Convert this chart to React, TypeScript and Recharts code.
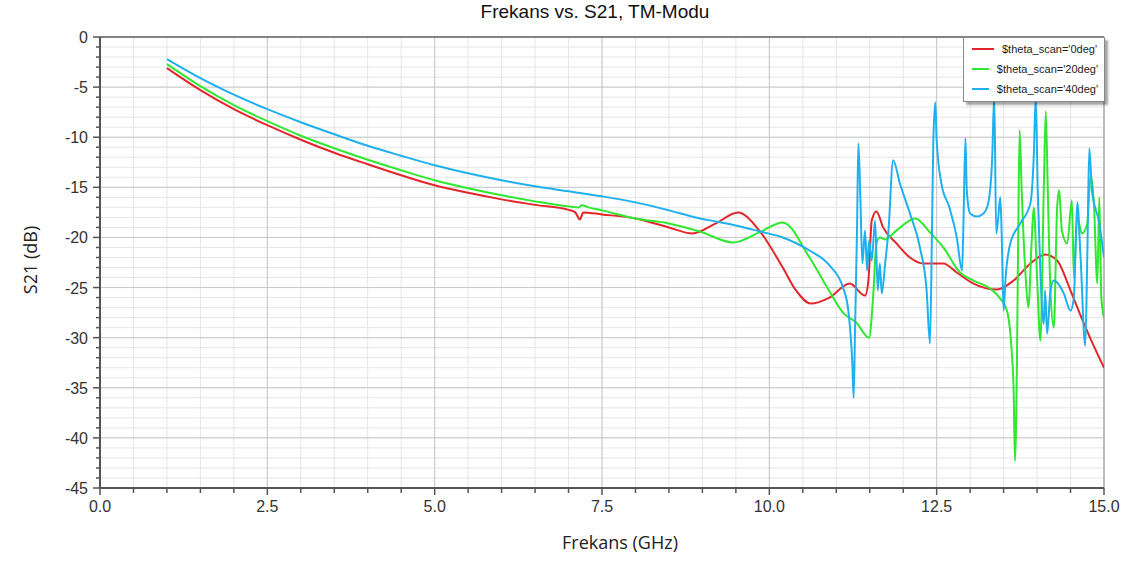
import { CartesianGrid, Legend, Line, LineChart, ReferenceLine, XAxis, YAxis } from 'recharts';

// theta_scan = 0deg
const redFreq = [1.0, 1.5, 2.0, 2.5, 3.0, 3.5, 4.0, 4.5, 5.0, 5.5, 6.0, 6.5, 7.0, 7.1, 7.17, 7.22, 7.5, 8.0, 8.5, 8.85, 9.2, 9.53, 9.86, 10.2, 10.4, 10.62, 10.9, 11.2, 11.43, 11.48, 11.53, 11.6, 11.7, 11.9, 12.1, 12.3, 12.6, 12.8, 13.05, 13.4, 13.65, 13.9, 14.12, 14.3, 14.5, 14.7, 14.9, 15.0];
const redS21 = [-3.1, -5.3, -7.2, -8.8, -10.25, -11.55, -12.7, -13.8, -14.8, -15.55, -16.2, -16.75, -17.25, -17.5, -18.2, -17.5, -17.7, -18.1, -19.0, -19.6, -18.6, -17.5, -19.4, -23.0, -25.3, -26.6, -26.0, -24.6, -25.8, -24.3, -18.3, -17.4, -19.0, -20.6, -22.0, -22.6, -22.6, -23.5, -24.6, -25.2, -24.3, -22.6, -21.7, -22.3, -25.3, -28.6, -31.6, -33.0];

// theta_scan = 20deg
const greenFreq = [1.0, 1.5, 2.0, 2.5, 3.0, 3.5, 4.0, 4.5, 5.0, 5.5, 6.0, 6.5, 7.0, 7.15, 7.2, 7.3, 7.5, 8.0, 8.5, 8.96, 9.46, 9.85, 10.2, 10.6, 10.9, 11.1, 11.3, 11.49, 11.55, 11.6, 11.65, 11.73, 11.9, 12.18, 12.4, 12.6, 12.85, 13.05, 13.3, 13.45, 13.55, 13.62, 13.65, 13.67, 13.7, 13.72, 13.74, 13.77, 13.8, 13.83, 13.87, 13.92, 13.95, 14.0, 14.05, 14.1, 14.13, 14.16, 14.2, 14.25, 14.3, 14.33, 14.37, 14.45, 14.52, 14.55, 14.6, 14.67, 14.75, 14.8, 14.85, 14.9, 14.93, 14.96, 15.0];
const greenS21 = [-2.7, -4.9, -6.8, -8.4, -9.85, -11.1, -12.25, -13.3, -14.3, -15.1, -15.8, -16.4, -16.9, -17.0, -16.8, -17.0, -17.3, -18.1, -18.6, -19.4, -20.5, -19.5, -18.5, -22.0, -25.4, -27.5, -28.5, -30.0, -26.0, -20.6, -20.0, -20.2, -19.3, -18.1, -19.5, -21.0, -23.5, -24.3, -25.1, -26.1, -27.3, -31.3, -35.3, -42.3, -32.0, -18.6, -9.3, -15.3, -20.3, -24.0, -27.0, -20.3, -17.0, -24.0, -30.3, -15.3, -7.4, -15.3, -25.3, -29.0, -17.0, -15.3, -19.3, -20.6, -16.3, -24.0, -18.0, -19.6, -18.6, -13.8, -16.7, -24.6, -16.0, -26.0, -28.0];

// theta_scan = 40deg
const blueFreq = [1.0, 1.5, 2.0, 2.5, 3.0, 3.5, 4.0, 4.5, 5.0, 5.5, 6.0, 6.5, 7.0, 7.5, 8.0, 8.5, 8.9, 9.2, 9.5, 9.86, 10.2, 10.6, 10.9, 11.1, 11.18, 11.24, 11.26, 11.28, 11.31, 11.33, 11.36, 11.39, 11.43, 11.46, 11.49, 11.53, 11.58, 11.62, 11.65, 11.68, 11.73, 11.78, 11.85, 11.95, 12.1, 12.25, 12.35, 12.4, 12.43, 12.45, 12.48, 12.5, 12.57, 12.69, 12.8, 12.88, 12.9, 12.93, 12.95, 13.0, 13.1, 13.2, 13.27, 13.33, 13.36, 13.39, 13.42, 13.45, 13.47, 13.5, 13.53, 13.6, 13.75, 13.9, 13.95, 13.98, 14.01, 14.05, 14.1, 14.12, 14.15, 14.2, 14.25, 14.3, 14.4, 14.5, 14.55, 14.6, 14.65, 14.72, 14.75, 14.78, 14.82, 14.93, 15.0];
const blueS21 = [-2.2, -4.1, -5.75, -7.2, -8.5, -9.7, -10.85, -11.85, -12.8, -13.6, -14.3, -14.9, -15.4, -15.9, -16.5, -17.3, -18.0, -18.4, -18.8, -19.4, -20.0, -21.3, -22.8, -25.0, -27.3, -32.6, -36.0, -29.3, -19.3, -10.6, -16.0, -22.6, -19.3, -23.3, -20.3, -22.3, -18.3, -25.3, -22.6, -25.6, -22.6, -19.3, -12.3, -14.6, -17.6, -21.0, -25.3, -30.6, -19.3, -10.5, -6.5, -10.3, -14.6, -17.0, -20.0, -23.3, -18.6, -10.1, -15.3, -17.6, -17.9, -17.6, -16.6, -12.0, -5.8, -19.6, -18.0, -16.0, -19.3, -27.3, -24.0, -20.6, -18.6, -16.6, -12.0, -6.0, -15.3, -23.6, -28.6, -25.3, -29.6, -25.3, -24.3, -24.5, -25.6, -27.3, -26.0, -16.5, -22.0, -30.8, -22.0, -11.1, -15.3, -18.6, -22.0];

const seriesNames = ["$theta_scan='0deg'", "$theta_scan='20deg'", "$theta_scan='40deg'"];
const seriesColors = ['#e3262c', '#2fe82f', '#1fb0ee'];

const xMajor = [0, 2.5, 5, 7.5, 10, 12.5, 15];
const yMajor = [0, -5, -10, -15, -20, -25, -30, -35, -40, -45];
const xTicks = Array.from({ length: 31 }, (_, i) => i * 0.5);
const yTicks = Array.from({ length: 46 }, (_, i) => -i);

const toPoints = (f: number[], s: number[]) => f.map((v, i) => ({ f: v, s21: s[i] }));
const redData = toPoints(redFreq, redS21);
const greenData = toPoints(greenFreq, greenS21);
const blueData = toPoints(blueFreq, blueS21);

const tickFont = "'Liberation Sans', Arial, sans-serif";

function XTick(props: any) {
  const { x, y, payload } = props;
  const major = xMajor.includes(payload.value);
  return (
    <g>
      <line x1={x} x2={x} y1={y} y2={y + (major ? 7 : 5)} stroke="#555" strokeWidth={1.5} />
      {major && (
        <text x={x} y={y + 24} textAnchor="middle" fontSize={16} fill="#333" fontFamily={tickFont}>
          {payload.value.toFixed(1)}
        </text>
      )}
    </g>
  );
}

function YTick(props: any) {
  const { x, y, payload } = props;
  const major = yMajor.includes(payload.value);
  return (
    <g>
      <line x1={x - (major ? 7 : 4)} x2={x} y1={y} y2={y} stroke="#555" strokeWidth={1.5} />
      {major && (
        <text x={x - 12} y={y + 6} textAnchor="end" fontSize={16} fill="#333" fontFamily={tickFont}>
          {payload.value}
        </text>
      )}
    </g>
  );
}

function LegendBox(props: any) {
  const items = props.payload || [];
  return (
    <div
      style={{
        background: '#fff',
        border: '1px solid #8a8a8a',
        boxShadow: '3px 3px 2px rgba(0,0,0,0.35)',
        padding: '1px 6px 2px 8px',
        fontFamily: "'Liberation Sans Narrow', 'Liberation Sans', Arial, sans-serif",
        fontSize: 11,
        color: '#222',
      }}
    >
      {items.map((it: any) => (
        <div key={it.value} style={{ display: 'flex', alignItems: 'center', height: 20 }}>
          <svg width={22} height={4} style={{ marginRight: 8 }}>
            <line x1={0} x2={22} y1={2} y2={2} stroke={it.color} strokeWidth={2} />
          </svg>
          <span>{it.value}</span>
        </div>
      ))}
    </div>
  );
}

export default function App() {
  return (
    <div style={{ position: 'absolute', left: 0, top: 0, width: 1125, height: 563, background: '#fff' }}>
      <div
        style={{
          position: 'absolute', left: 395, width: 400, top: 1, textAlign: 'center',
          fontFamily: tickFont, fontSize: 19, color: '#111',
        }}
      >
        Frekans vs. S21, TM-Modu
      </div>
      <LineChart width={1125} height={563} margin={{ top: 37, right: 21, bottom: 45, left: 40 }}>
        <CartesianGrid stroke="#e6e6e6" strokeWidth={1} />
        <CartesianGrid stroke="#c9c9c9" strokeWidth={1} verticalValues={xMajor} horizontalValues={yMajor} />
        <ReferenceLine y={0} stroke="#666" strokeWidth={1.5} />
        <ReferenceLine x={15} stroke="#999" strokeWidth={1} />
        <XAxis
          type="number"
          dataKey="f"
          domain={[0, 15]}
          ticks={xTicks}
          interval={0}
          allowDataOverflow
          tickSize={0}
          tickMargin={0}
          tickLine={false}
          tick={<XTick />}
          axisLine={{ stroke: '#555', strokeWidth: 2 }}
          height={30}
        />
        <YAxis
          type="number"
          domain={[-45, 0]}
          ticks={yTicks}
          interval={0}
          allowDataOverflow
          tickSize={0}
          tickMargin={0}
          tickLine={false}
          tick={<YTick />}
          axisLine={{ stroke: '#555', strokeWidth: 2 }}
          width={60}
        />
        <Legend
          content={<LegendBox />}
          layout="horizontal"
          verticalAlign="middle"
          align="center"
          wrapperStyle={{ top: 37, left: 963, width: 142 }}
        />
        <Line data={redData} dataKey="s21" name={seriesNames[0]} type="monotone" stroke={seriesColors[0]} strokeWidth={2} dot={false} isAnimationActive={false} />
        <Line data={greenData} dataKey="s21" name={seriesNames[1]} type="monotone" stroke={seriesColors[1]} strokeWidth={2} dot={false} isAnimationActive={false} />
        <Line data={blueData} dataKey="s21" name={seriesNames[2]} type="monotone" stroke={seriesColors[2]} strokeWidth={2} dot={false} isAnimationActive={false} />
      </LineChart>
      <div
        style={{
          position: 'absolute', left: 520, width: 200, top: 530, textAlign: 'center',
          fontFamily: "'Open Sans', sans-serif", fontSize: 18, color: '#222',
        }}
      >
        Frekans (GHz)
      </div>
      <div
        style={{
          position: 'absolute', left: -70, width: 200, top: 248, textAlign: 'center',
          transform: 'rotate(-90deg)',
          fontFamily: "'Open Sans', sans-serif", fontSize: 18, color: '#222',
        }}
      >
        S21 (dB)
      </div>
    </div>
  );
}
